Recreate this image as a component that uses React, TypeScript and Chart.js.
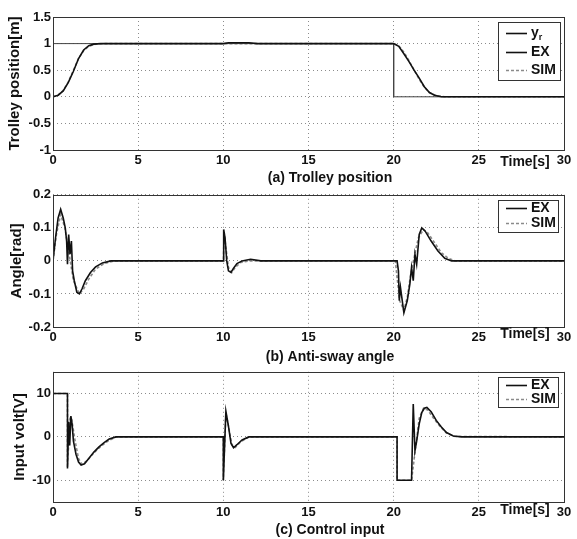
import React, { useEffect, useRef } from "react";
import { Chart, registerables } from "chart.js";
Chart.register(...registerables);

const FONT = "'Liberation Sans', Arial, Helvetica, sans-serif";

// ---- tick values ----
const timeTicks = [0, 5, 10, 15, 20, 25, 30];
const posTicks = [-1, -0.5, 0, 0.5, 1, 1.5];
const angTicks = [-0.2, -0.1, 0, 0.1, 0.2];
const voltTicks = [-10, 0, 10];

// ---- (a) Trolley position ----
const refT = [0, 20, 20, 30];
const refY = [1, 1, 0, 0];
const posExT = [0, 0.3, 0.6, 0.9, 1.2, 1.5, 1.8, 2.1, 2.4, 2.8, 3.5, 10, 10.3, 11.5, 12, 20, 20.3, 20.6, 20.9, 21.2, 21.5, 21.8, 22.1, 22.4, 22.8, 23.5, 30];
const posExY = [0, 0.03, 0.11, 0.27, 0.48, 0.72, 0.88, 0.96, 0.99, 1.0, 1.0, 1.0, 1.015, 1.015, 1.0, 1.0, 0.95, 0.81, 0.66, 0.5, 0.35, 0.19, 0.08, 0.03, 0.0, 0.0, 0.0];
const posSimT = [0, 0.3, 0.6, 0.9, 1.2, 1.5, 1.8, 2.1, 2.5, 3, 20, 20.3, 20.6, 20.9, 21.2, 21.5, 21.8, 22.1, 22.5, 23, 30];
const posSimY = [0, 0.03, 0.12, 0.28, 0.5, 0.72, 0.87, 0.95, 0.99, 1.0, 1.0, 0.96, 0.84, 0.68, 0.5, 0.33, 0.18, 0.08, 0.02, 0, 0];

// ---- (b) Anti-sway angle ----
const angExT = [0, 0.15, 0.3, 0.45, 0.6, 0.72, 0.8, 0.85, 0.92, 1.0, 1.08, 1.15, 1.25, 1.4, 1.55, 1.7, 1.9, 2.2, 2.5, 2.9, 3.4, 10, 10.02, 10.1, 10.2, 10.3, 10.45, 10.6, 10.8, 11.1, 11.6, 12.2, 20.2, 20.28, 20.33, 20.4, 20.6, 20.8, 20.95, 21.05, 21.15, 21.25, 21.35, 21.5, 21.65, 21.85, 22.2, 22.6, 23.0, 23.4, 30];
const angExY = [0, 0.07, 0.13, 0.156, 0.13, 0.1, 0.06, -0.01, 0.08, 0.02, 0.06, -0.03, -0.06, -0.095, -0.1, -0.085, -0.06, -0.035, -0.018, -0.006, 0, 0, 0.095, 0.07, 0.0, -0.03, -0.035, -0.022, -0.008, 0.0, 0.005, 0, 0, -0.03, -0.12, -0.08, -0.157, -0.12, -0.07, -0.02, -0.06, 0.02, -0.01, 0.08, 0.1, 0.09, 0.06, 0.03, 0.008, 0, 0];
const angSimT = [0, 0.2, 0.45, 0.7, 0.95, 1.2, 1.55, 1.8, 2.1, 2.5, 3.0, 3.6, 10, 10.05, 10.15, 10.3, 10.5, 10.7, 11.0, 11.5, 20.1, 20.2, 20.35, 20.6, 20.8, 21.0, 21.2, 21.45, 21.75, 22.0, 22.4, 22.8, 23.2, 23.6, 30];
const angSimY = [0, 0.08, 0.14, 0.1, 0.02, -0.06, -0.1, -0.085, -0.055, -0.025, -0.008, 0, 0, 0.085, 0.04, -0.02, -0.035, -0.02, -0.005, 0, 0, -0.05, -0.12, -0.15, -0.11, -0.04, 0.01, 0.07, 0.095, 0.085, 0.055, 0.025, 0.008, 0, 0];

// ---- (c) Control input ----
const voltExT = [0, 0.85, 0.85, 0.92, 0.98, 1.05, 1.12, 1.2, 1.35, 1.5, 1.65, 1.85, 2.1, 2.4, 2.7, 3.0, 3.3, 3.7, 10, 10, 10.15, 10.3, 10.45, 10.6, 10.8, 11.1, 11.5, 20.2, 20.2, 21.05, 21.15, 21.25, 21.35, 21.5, 21.65, 21.8, 21.95, 22.2, 22.5, 22.8, 23.1, 23.5, 24, 30];
const voltExY = [10, 10, -7.3, 3.5, -2, 4.8, 3, -1, -4, -5.8, -6.5, -6.2, -5, -3.5, -2.3, -1.3, -0.5, 0, 0, -10, 5.9, 2.5, -1.5, -2.5, -1.8, -0.7, 0, 0, -10, -10, 7.6, -3.2, -1, 3, 5.6, 6.6, 6.8, 5.8, 3.8, 2.3, 1.0, 0.2, 0, 0];
const voltSimT = [0, 0.85, 0.85, 1.0, 1.1, 1.3, 1.5, 1.7, 2.0, 2.4, 2.8, 3.2, 3.7, 10, 10, 10.15, 10.3, 10.5, 10.7, 11.0, 11.5, 20.2, 20.2, 21.05, 21.3, 21.5, 21.75, 22.0, 22.3, 22.7, 23.1, 23.6, 30];
const voltSimY = [10, 10, -7, 4.5, 4, -1, -5, -6.3, -5.5, -3.7, -2.2, -1, 0, 0, -10, 5.5, 2.5, -1.8, -2.4, -1.2, 0, 0, -10, -10, -2, 4.3, 6.6, 6.2, 4.5, 2.5, 0.9, 0.1, 0];

function pts(t: number[], y: number[]) {
  return t.map((x, i) => ({ x, y: y[i] }));
}

const EX_STYLE = { borderColor: "#111", borderWidth: 1.6, borderDash: [] as number[] };
const SIM_STYLE = { borderColor: "#8a8a8a", borderWidth: 1.6, borderDash: [3, 2] };
const REF_STYLE = { borderColor: "#444", borderWidth: 1, borderDash: [] as number[] };

type LegendItem = { label: string; sub?: string; color: string; dash: number[] };

type PanelCfg = {
  top: number;
  height: number;
  padTop: number;
  axisH: number;
  yMin: number;
  yMax: number;
  yTicks: number[];
  yTitle: string;
  yTitlePad: number;
  subtitle: string;
  subtitleY: number;
  timeY: number;
  legend: { x: number; y: number; w: number; h: number; rows: number[]; items: LegendItem[] };
  datasets: any[];
};

const exItem: LegendItem = { label: "EX", color: "#111", dash: [] };
const simItem: LegendItem = { label: "SIM", color: "#8a8a8a", dash: [3, 2] };

const panels: PanelCfg[] = [
  {
    top: 0, height: 190, padTop: 17, axisH: 40,
    yMin: -1, yMax: 1.5, yTicks: posTicks, yTitle: "Trolley position[m]", yTitlePad: 5.4,
    subtitle: "(a) Trolley position", subtitleY: 178, timeY: 162,
    legend: { x: 498, y: 22, w: 62, h: 58, rows: [33, 52, 70], items: [{ label: "y", sub: "r", color: "#111", dash: [] }, exItem, simItem] },
    datasets: [
      { label: "EX", data: pts(posExT, posExY), ...EX_STYLE },
      { label: "y_r", data: pts(refT, refY), ...REF_STYLE },
      { label: "SIM", data: pts(posSimT, posSimY), ...SIM_STYLE },
    ],
  },
  {
    top: 185, height: 180, padTop: 9, axisH: 38,
    yMin: -0.2, yMax: 0.2, yTicks: angTicks, yTitle: "Angle[rad]", yTitlePad: 7.4,
    subtitle: "(b) Anti-sway angle", subtitleY: 172, timeY: 149,
    legend: { x: 498, y: 15, w: 60, h: 32, rows: [23, 38], items: [exItem, simItem] },
    datasets: [
      { label: "EX", data: pts(angExT, angExY), ...EX_STYLE },
      { label: "SIM", data: pts(angSimT, angSimY), ...SIM_STYLE },
    ],
  },
  {
    top: 362, height: 177, padTop: 7, axisH: 37,
    yMin: -15, yMax: 15, yTicks: voltTicks, yTitle: "Input volt[V]", yTitlePad: 10.4,
    subtitle: "(c) Control input", subtitleY: 168, timeY: 148,
    legend: { x: 498, y: 15, w: 60, h: 30, rows: [23, 37], items: [exItem, simItem] },
    datasets: [
      { label: "EX", data: pts(voltExT, voltExY), ...EX_STYLE },
      { label: "SIM", data: pts(voltSimT, voltSimY), ...SIM_STYLE },
    ],
  },
];

function Panel({ cfg }: { cfg: PanelCfg }) {
  const ref = useRef<HTMLCanvasElement>(null);
  useEffect(() => {
    const canvas = ref.current!;
    const decor = {
      id: "decor",
      afterDraw(chart: any) {
        const { ctx, chartArea: a } = chart;
        ctx.save();
        // frame
        ctx.strokeStyle = "#333";
        ctx.lineWidth = 1;
        ctx.setLineDash([]);
        ctx.strokeRect(Math.round(a.left) + 0.5, Math.round(a.top) + 0.5, Math.round(a.right - a.left), Math.round(a.bottom - a.top));
        // Time[s]
        ctx.fillStyle = "#111";
        ctx.font = `bold 14px ${FONT}`;
        ctx.textAlign = "center";
        ctx.textBaseline = "middle";
        ctx.fillText("Time[s]", 525, cfg.timeY);
        // subtitle
        ctx.font = `bold 14px ${FONT}`;
        ctx.fillText(cfg.subtitle, 330, cfg.subtitleY);
        // legend
        const L = cfg.legend;
        ctx.fillStyle = "#fff";
        ctx.fillRect(L.x, L.y, L.w, L.h);
        ctx.strokeStyle = "#333";
        ctx.strokeRect(L.x + 0.5, L.y + 0.5, L.w, L.h);
        L.items.forEach((it, i) => {
          const y = L.rows[i];
          ctx.strokeStyle = it.color;
          ctx.lineWidth = 1.6;
          ctx.setLineDash(it.dash);
          ctx.beginPath();
          ctx.moveTo(L.x + 8, y + 0.5);
          ctx.lineTo(L.x + 29, y + 0.5);
          ctx.stroke();
          ctx.setLineDash([]);
          ctx.fillStyle = "#111";
          ctx.textAlign = "left";
          ctx.textBaseline = "middle";
          ctx.font = `bold 14px ${FONT}`;
          ctx.fillText(it.label, L.x + 33, y);
          if (it.sub) {
            const w = ctx.measureText(it.label).width;
            ctx.font = `bold 9px ${FONT}`;
            ctx.fillText(it.sub, L.x + 33 + w, y + 5);
          }
        });
        ctx.restore();
      },
    };
    const chart = new Chart(canvas, {
      type: "line",
      data: { datasets: cfg.datasets },
      options: {
        animation: false,
        responsive: false,
        maintainAspectRatio: false,
        layout: { padding: { top: cfg.padTop, right: 13, left: 0, bottom: 0 } },
        plugins: { legend: { display: false }, tooltip: { enabled: false } },
        elements: { point: { radius: 0 }, line: { tension: 0 } },
        scales: {
          x: {
            type: "linear",
            min: 0,
            max: 30,
            afterBuildTicks: (s: any) => {
              s.ticks = timeTicks.map((v) => ({ value: v }));
            },
            afterFit: (s: any) => {
              s.height = cfg.axisH;
            },
            grid: { color: "#8c8c8c", drawTicks: false, lineWidth: 1 },
            border: { display: false, dash: [1, 3] },
            ticks: { padding: 3, color: "#111", maxRotation: 0, font: { family: FONT, size: 13, weight: "bold" }, callback: (v: any) => String(v) },
          },
          y: {
            type: "linear",
            min: cfg.yMin,
            max: cfg.yMax,
            afterBuildTicks: (s: any) => {
              s.ticks = cfg.yTicks.map((v) => ({ value: v }));
            },
            afterFit: (s: any) => {
              s.width = 53;
            },
            grid: { color: "#8c8c8c", drawTicks: false, lineWidth: 1 },
            border: { display: false, dash: [1, 3] },
            ticks: { padding: 2, color: "#111", font: { family: FONT, size: 13, weight: "bold" }, callback: (v: any) => String(v) },
            title: {
              display: true,
              text: cfg.yTitle,
              color: "#111",
              font: { family: FONT, size: 15, weight: "bold" },
              padding: { top: cfg.yTitlePad + 0.6, bottom: 0 },
            },
          },
        },
      },
      plugins: [decor],
    } as any);
    return () => chart.destroy();
  }, [cfg]);
  return (
    <canvas
      ref={ref}
      width={577}
      height={cfg.height}
      style={{ position: "absolute", left: 0, top: cfg.top, width: 577, height: cfg.height }}
    />
  );
}

export default function App() {
  return (
    <div style={{ position: "fixed", left: 0, top: 0, width: 577, height: 539, background: "#fff", overflow: "hidden" }}>
      {panels.map((p, i) => (
        <Panel key={i} cfg={p} />
      ))}
    </div>
  );
}
